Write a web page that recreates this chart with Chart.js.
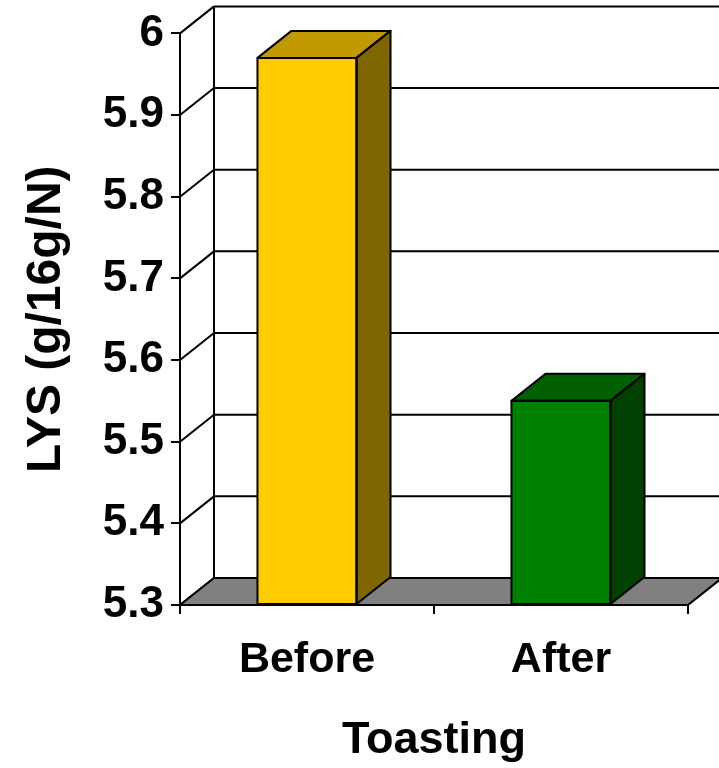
<!DOCTYPE html>
<html>
<head>
<meta charset="utf-8">
<title>LYS before and after toasting</title>
<script src="https://cdn.jsdelivr.net/npm/chart.js@4"></script>
<style>
  html, body { margin: 0; padding: 0; background: #fff; }
  #wrap { width: 719px; height: 768px; }
</style>
</head>
<body>
<div id="wrap"><canvas id="lys"></canvas></div>
<script>
// values
var categories = ["Before", "After"];
var lysValues = [5.97, 5.55];
var yTicks = [5.3, 5.4, 5.5, 5.6, 5.7, 5.8, 5.9, 6];

var faceColors = ["#FFCC00", "#008000"];
var topColors = ["#C09A00", "#006000"];
var sideColors = ["#806600", "#004000"];

// depth of the fake 3d box
var DX = 34, DY = -27;

function poly(ctx, pts, fill) {
    ctx.beginPath();
    ctx.moveTo(pts[0][0], pts[0][1]);
    for (var i = 1; i < pts.length; i++) ctx.lineTo(pts[i][0], pts[i][1]);
    ctx.closePath();
    if (fill) { ctx.fillStyle = fill; ctx.fill(); }
    ctx.stroke();
}

var box3d = {
    id: "box3d",
    beforeDatasetsDraw: function (chart) {
        var ctx = chart.ctx, a = chart.chartArea, y = chart.scales.y;
        ctx.save();
        ctx.strokeStyle = "#000";
        ctx.lineWidth = 2;
        // back wall grid + side wall diagonals
        yTicks.forEach(function (t) {
            var py = y.getPixelForValue(t);
            ctx.beginPath();
            ctx.moveTo(a.left + DX, py + DY);
            ctx.lineTo(a.right + DX, py + DY);
            ctx.moveTo(a.left, py);
            ctx.lineTo(a.left + DX, py + DY);
            ctx.stroke();
        });
        ctx.beginPath();
        ctx.moveTo(a.left + DX, a.top + DY);
        ctx.lineTo(a.left + DX, a.bottom + DY);
        ctx.stroke();
        // floor
        poly(ctx, [[a.left, a.bottom], [a.right, a.bottom],
                   [a.right + DX, a.bottom + DY], [a.left + DX, a.bottom + DY]], "#808080");
        ctx.restore();
    },
    afterDatasetsDraw: function (chart) {
        var ctx = chart.ctx;
        ctx.save();
        ctx.strokeStyle = "#000";
        ctx.lineWidth = 2;
        ctx.lineJoin = "round";
        chart.getDatasetMeta(0).data.forEach(function (bar, i) {
            var l = bar.x - bar.width / 2, r = bar.x + bar.width / 2;
            var t = bar.y, b = bar.base;
            poly(ctx, [[l, t], [r, t], [r + DX, t + DY], [l + DX, t + DY]], topColors[i]);
            poly(ctx, [[r, t], [r + DX, t + DY], [r + DX, b + DY], [r, b]], sideColors[i]);
            ctx.strokeRect(l, t, r - l, b - t);
        });
        ctx.restore();
    }
};

var font = { family: "'Liberation Sans', Arial, sans-serif", weight: "bold" };

new Chart(document.getElementById("lys"), {
    type: "bar",
    data: {
        labels: categories,
        datasets: [{
            data: lysValues,
            base: yTicks[0],
            backgroundColor: faceColors,
            borderWidth: 0,
            categoryPercentage: 1,
            barPercentage: 0.39
        }]
    },
    options: {
        responsive: true,
        maintainAspectRatio: false,
        animation: false,
        layout: { padding: { top: 32, right: 31, left: 0, bottom: 0 } },
        plugins: { legend: { display: false }, tooltip: { enabled: false } },
        scales: {
            x: {
                grid: { drawOnChartArea: false, tickLength: 9, color: "#000", lineWidth: 2 },
                border: { display: false },
                ticks: { color: "#000", padding: 20, font: Object.assign({ size: 43 }, font) },
                title: {
                    display: true, text: "Toasting", color: "#000",
                    padding: { top: 0, bottom: 0 },
                    font: Object.assign({ size: 45 }, font)
                },
                afterFit: function (s) { s.height = 163; }
            },
            y: {
                min: 5.3, max: 6,
                afterBuildTicks: function (s) {
                    s.ticks = yTicks.map(function (v) { return { value: v }; });
                },
                grid: { drawOnChartArea: false, tickLength: 9, color: "#000", lineWidth: 2 },
                border: { display: true, color: "#000", width: 2 },
                ticks: {
                    color: "#000", padding: 7,
                    font: Object.assign({ size: 44 }, font),
                    callback: function (v) { return String(+v.toFixed(1)); }
                },
                title: {
                    display: true, text: "LYS (g/16g/N)", color: "#000",
                    padding: { top: 18, bottom: 0 },
                    font: Object.assign({ size: 48 }, font)
                },
                afterFit: function (s) { s.width = 180; }
            }
        }
    },
    plugins: [box3d]
});
</script>
</body>
</html>
